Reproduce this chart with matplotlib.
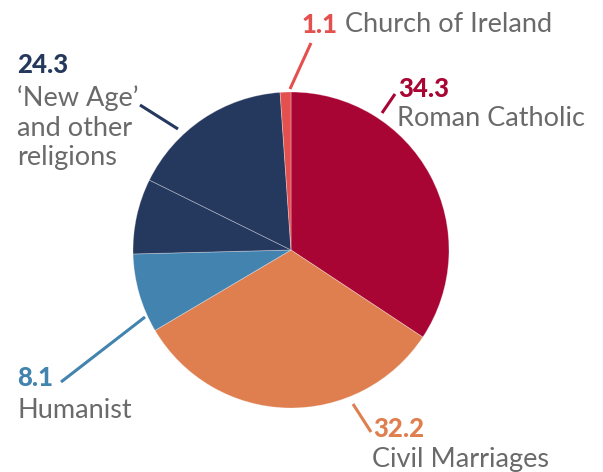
import matplotlib
matplotlib.use("Agg")
import matplotlib.pyplot as plt

# Data
categories = ["Roman Catholic", "Civil Marriages", "Humanist", "'New Age'", "other religions", "Church of Ireland"]
values = [34.3, 32.2, 8.1, 7.7, 16.6, 1.1]
colors = ["#A80534", "#DF7E4F", "#4383AF", "#25385E", "#25385E", "#E3504E"]

label_names = ["Church of Ireland", "Roman Catholic", "Civil Marriages", "Humanist", "\u2018New Age\u2019\nand other\nreligions"]
label_values = ["1.1", "34.3", "32.2", "8.1", "24.3"]

W, H = 603, 472
fig = plt.figure(figsize=(W / 100, H / 100), dpi=100)

def px(x, y):
    return (x / W, 1 - y / H)

cx, cy, r = 291, 250, 158
ax = fig.add_axes([(cx - r) / W, (H - cy - r) / H, 2 * r / W, 2 * r / H])
wedges, _ = ax.pie(values, colors=colors, startangle=90, counterclock=False,
                   wedgeprops=dict(edgecolor=(1, 1, 1, 0.35), linewidth=0.6))
ax.set_xlim(-1, 1)
ax.set_ylim(-1, 1)
ax.set_aspect("equal")
ax.axis("off")

gray = "#6a6a6a"
name_font = dict(family=["Lato", "DejaVu Sans"], fontsize=19.5, color=gray, fontweight="normal")
num_font = dict(family=["Lato", "DejaVu Sans"], fontsize=18.5, fontweight="black")

def line(p0, p1, color):
    x0, y0 = px(*p0)
    x1, y1 = px(*p1)
    fig.add_artist(plt.Line2D([x0, x1], [y0, y1], transform=fig.transFigure,
                              color=color, linewidth=2.2, solid_capstyle="butt"))

# Church of Ireland
line((290, 89), (311, 43), "#E3504E")
fig.text(*px(302, 25), label_values[0], va="center", ha="left", color="#E3504E", **num_font)
fig.text(*px(345, 25), label_names[0], va="center", ha="left", **name_font)

# Roman Catholic
line((382, 113), (395, 94), "#A80534")
fig.text(*px(398, 89), label_values[1], va="center", ha="left", color="#A80534", **num_font)
fig.text(*px(397, 119), label_names[1], va="center", ha="left", **name_font)

# Civil Marriages
line((353, 404), (371, 432), "#DF7E4F")
fig.text(*px(373, 429), label_values[2], va="center", ha="left", color="#DF7E4F", **num_font)
fig.text(*px(372, 459), label_names[2], va="center", ha="left", **name_font)

# Humanist
line((61, 382), (145, 317), "#4383AF")
fig.text(*px(17, 378), label_values[3], va="center", ha="left", color="#4383AF", **num_font)
fig.text(*px(17, 410), label_names[3], va="center", ha="left", **name_font)

# New Age and other religions
line((140, 105), (178, 129), "#25385E")
fig.text(*px(17, 65), label_values[4], va="center", ha="left", color="#25385E", **num_font)
fig.text(*px(17, 128), label_names[4], va="center", ha="left",
         linespacing=1.22, **name_font)

fig.savefig("out.png", dpi=100)
